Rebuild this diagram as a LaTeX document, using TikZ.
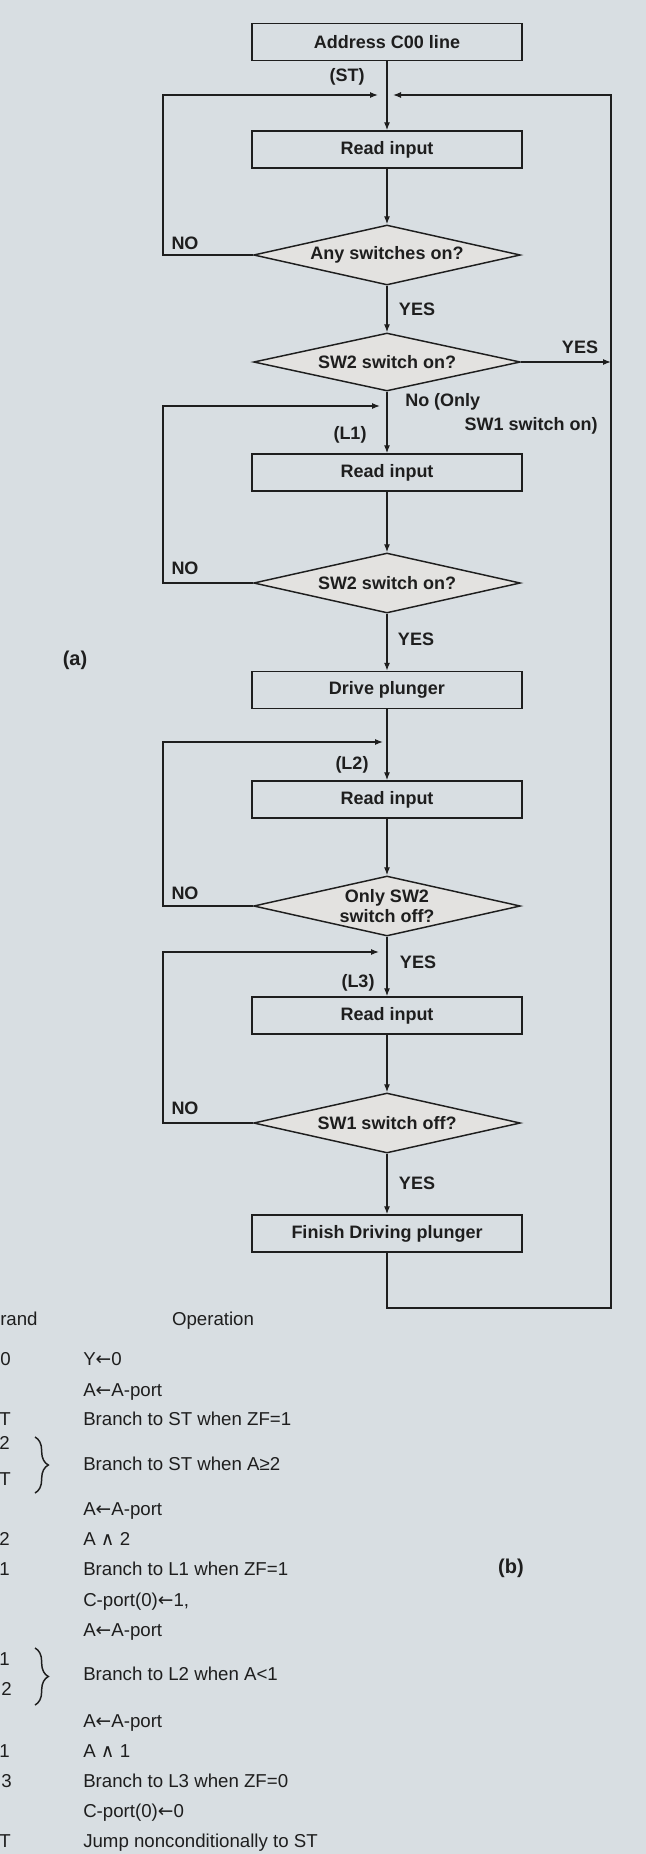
\documentclass[tikz,border=0pt]{standalone}
\usepackage{fontspec}
\setmainfont{Liberation Sans}
\newfontfamily\symf{DejaVu Sans}
\usetikzlibrary{shapes.geometric,arrows.meta,decorations.pathreplacing}
\definecolor{bg}{HTML}{D8DEE2}
\definecolor{dfill}{HTML}{E3E2E0}
\definecolor{ink}{HTML}{1E1E1E}
\begin{document}
\begin{tikzpicture}[x=0.75pt,y=-0.75pt,
  every node/.style={text=ink},
  proc/.style={draw=ink, line width=1.1pt, minimum width=202.5pt, minimum height=27.75pt, inner sep=0pt, font=\fontsize{13.5}{15}\selectfont\bfseries},
  dec/.style={diamond, draw=ink, fill=dfill, line width=1.1pt, minimum width=200pt, minimum height=45pt, aspect=4.4, inner sep=1pt, align=center, font=\fontsize{13.5}{14.5}\selectfont\bfseries},
  lbl/.style={inner sep=0pt, font=\fontsize{13.5}{15}\selectfont\bfseries},
  tbl/.style={inner sep=0pt, anchor=base west, font=\fontsize{14}{16}\selectfont},
  opd/.style={inner sep=0pt, anchor=base east, font=\fontsize{14}{16}\selectfont},
  flow/.style={draw=ink, line width=0.9pt},
  arr/.style={flow, -{Latex[length=6pt,width=4.5pt]}},
  brc/.style={draw=ink, line width=1.1pt, decorate, decoration={brace, amplitude=10pt}}
]
\useasboundingbox (0,0) rectangle (646,1854);
\fill[bg] (0,0) rectangle (646,1854);

% flowchart nodes
\node[proc] (addr) at (387,42) {Address C00 line};
\node[proc] (read1) at (387,149.5) {Read input};
\node[dec] (d1) at (387,255) {Any switches on?};
\node[dec, minimum height=43.5pt] (d2) at (387,362) {SW2 switch on?};
\node[proc] (read2) at (387,472.5) {Read input};
\node[dec] (d3) at (387,583) {SW2 switch on?};
\node[proc] (drive) at (387,690) {Drive plunger};
\node[proc] (read3) at (387,799.5) {Read input};
\node[dec] (d4) at (387,906) {Only SW2\\switch off?};
\node[proc] (read4) at (387,1015.5) {Read input};
\node[dec] (d5) at (387,1123) {SW1 switch off?};
\node[proc] (fin) at (387,1233.5) {Finish Driving plunger};

% helper coordinates
\coordinate (lx) at (163,0);
\coordinate (stL) at (378,95);
\coordinate (stR) at (393,95);
\coordinate (l1t) at (380,406);
\coordinate (l2t) at (383,742);
\coordinate (l3t) at (379,952);
\coordinate (cBR) at (611,1308);

% main flow
\draw[arr] (addr) -- (read1);
\draw[arr] (read1) -- (d1);
\draw[arr] (d1) -- (d2);
\draw[arr] (d2) -- (read2);
\draw[arr] (read2) -- (d3);
\draw[arr] (d3) -- (drive);
\draw[arr] (drive) -- (read3);
\draw[arr] (read3) -- (d4);
\draw[arr] (d4) -- (read4);
\draw[arr] (read4) -- (d5);
\draw[arr] (d5) -- (fin);

% loops
\draw[arr] (d1.west) -- (d1.west -| lx) |- (stL);
\draw[arr] (fin.south) |- (cBR) |- (stR);
\draw[arr] (d2.east) -- (d2.east -| cBR);
\draw[arr] (d3.west) -- (d3.west -| lx) |- (l1t);
\draw[arr] (d4.west) -- (d4.west -| lx) |- (l2t);
\draw[arr] (d5.west) -- (d5.west -| lx) |- (l3t);

% labels
\node[lbl] (st) at (347,77) {(ST)};
\node[lbl] (no1) at (185,243) {NO};
\node[lbl] (yes1) at (417,309) {YES};
\node[lbl] (yes2) at (580,347) {YES};
\node[lbl, anchor=west] (no2a) at (405,402) {No (Only};
\node[lbl, anchor=east] (no2b) at (598,426) {SW1 switch on)};
\node[lbl] (l1) at (350,435) {(L1)};
\node[lbl] (no3) at (185,568) {NO};
\node[lbl] (yes3) at (416,639) {YES};
\node[lbl, font=\fontsize{15}{17}\selectfont\bfseries] (la) at (75,660) {(a)};
\node[lbl] (l2) at (352,765) {(L2)};
\node[lbl] (no4) at (185,893) {NO};
\node[lbl] (yes4) at (418,962) {YES};
\node[lbl] (l3) at (358,983) {(L3)};
\node[lbl] (no5) at (185,1108) {NO};
\node[lbl] (yes5) at (417,1183) {YES};
\node[lbl, font=\fontsize{15}{17}\selectfont\bfseries] (lb) at (511,1568) {(b)};

% table
\node[tbl] (h1) at (0,1325) {rand};
\node[tbl, anchor=base] (h2) at (213,1325) {Operation};

\node[opd] (o1) at (11,1365) {0};
\node[tbl] (t1) at (83,1365) {Y{\symf ←}0};
\node[tbl] (t2) at (83,1396) {A{\symf ←}A-port};
\node[opd] (o3) at (11,1425) {T};
\node[tbl] (t3) at (83,1425) {Branch to ST when ZF=1};
\node[opd] (o4a) at (10,1449) {2};
\node[opd] (o4b) at (11,1485) {T};
\draw[brc] (35,1437) -- (35,1493);
\node[tbl] (t4) at (83,1470) {Branch to ST when A≥2};
\node[tbl] (t5) at (83,1515) {A{\symf ←}A-port};
\node[opd] (o6) at (10,1545) {2};
\node[tbl] (t6) at (83,1545) {A {\symf ∧} 2};
\node[opd] (o7) at (10,1575) {1};
\node[tbl] (t7) at (83,1575) {Branch to L1 when ZF=1};
\node[tbl] (t8) at (83,1606) {C-port(0){\symf ←}1,};
\node[tbl] (t9) at (83,1636) {A{\symf ←}A-port};
\node[opd] (o10a) at (10,1665) {1};
\node[opd] (o10b) at (12,1695) {2};
\draw[brc] (35,1648) -- (35,1705);
\node[tbl] (t10) at (83,1680) {Branch to L2 when A<1};
\node[tbl] (t11) at (83,1727) {A{\symf ←}A-port};
\node[opd] (o12) at (10,1757) {1};
\node[tbl] (t12) at (83,1757) {A {\symf ∧} 1};
\node[opd] (o13) at (12,1787) {3};
\node[tbl] (t13) at (83,1787) {Branch to L3 when ZF=0};
\node[tbl] (t14) at (83,1817) {C-port(0){\symf ←}0};
\node[opd] (o15) at (11,1847) {T};
\node[tbl] (t15) at (83,1847) {Jump nonconditionally to ST};
\end{tikzpicture}
\end{document}
